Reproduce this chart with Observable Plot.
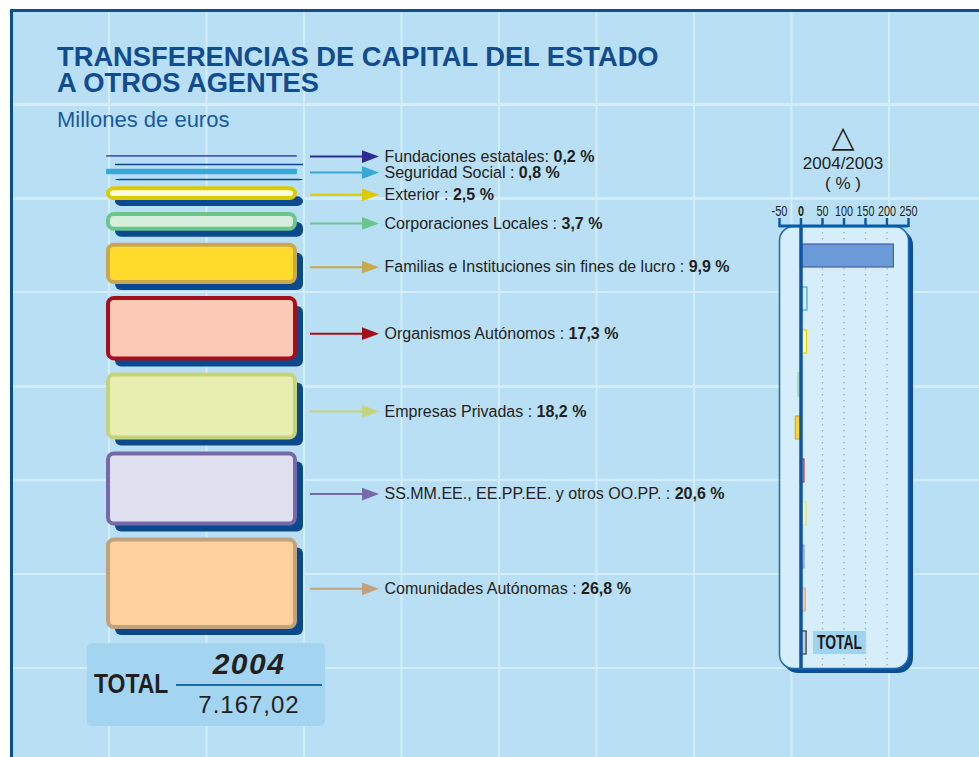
<!DOCTYPE html>
<html><head><meta charset="utf-8">
<script src="https://cdn.jsdelivr.net/npm/d3@7"></script>
<script src="https://cdn.jsdelivr.net/npm/@observablehq/plot@0.6"></script>
<style>
html,body{margin:0;padding:0;background:#fff;}
#page{position:relative;width:979px;height:757px;overflow:hidden;font-family:"Liberation Sans",Arial,Helvetica,sans-serif;}
#bg{position:absolute;left:10px;top:9px;width:969px;height:748px;border-left:3px solid #0b4f8f;border-top:3px solid #0b4f8f;background-color:#b9dff4;
background-image:linear-gradient(to right, transparent calc(100% - 2px), #d4edfa calc(100% - 2px)), linear-gradient(to bottom, transparent calc(100% - 2px), #d4edfa calc(100% - 2px));
background-size:97.5px 94px;background-position:-0.5px -1px;}
.layer{position:absolute;left:0;top:0;}
#title{position:absolute;left:57px;top:44px;font-size:27.3px;line-height:26px;font-weight:bold;color:#114d8e;white-space:nowrap;}
#subtitle{position:absolute;left:57px;top:109px;font-size:22px;line-height:21px;color:#1a5a9e;white-space:nowrap;}
#phead{position:absolute;left:783px;top:122px;width:120px;text-align:center;color:#231f20;}
#phead .tri{font-family:"DejaVu Sans",sans-serif;font-size:30px;line-height:30px;}
#phead .t{font-size:17px;line-height:20px;}
#phead .t1{margin-top:2px;}
#totbox{position:absolute;left:87px;top:643px;width:238px;height:83px;background:#a3d5f1;border-radius:5px;}
#totlab{position:absolute;left:94px;top:669px;font-weight:bold;font-size:28px;line-height:30px;color:#231f20;transform:scaleX(0.82);transform-origin:0 0;}
#totyear{position:absolute;left:176px;width:146px;top:648px;text-align:center;font-weight:bold;font-style:italic;font-size:30px;line-height:32px;letter-spacing:1.5px;color:#231f20;}
#totline{position:absolute;left:176px;width:146px;top:684px;height:2px;background:#1a6ab0;}
#totval{position:absolute;left:176px;width:146px;top:692px;text-align:center;font-size:24px;line-height:26px;letter-spacing:1px;color:#231f20;}
</style>
</head><body>
<div id="page">
  <div id="bg"></div>
  <div id="title">TRANSFERENCIAS DE CAPITAL DEL ESTADO<br>A OTROS AGENTES</div>
  <div id="subtitle">Millones de euros</div>
  <div id="phead"><div class="tri">△</div><div class="t t1" id="ratio"></div><div class="t">( % )</div></div>
  <div id="totbox"></div>
  <div id="totlab"></div>
  <div id="totyear"></div>
  <div id="totline"></div>
  <div id="totval"></div>
</div>
<script>
// ---------- DATA ----------
const categories = [
  "Fundaciones estatales",
  "Seguridad Social",
  "Exterior",
  "Corporaciones Locales",
  "Familias e Instituciones sin fines de lucro",
  "Organismos Autónomos",
  "Empresas Privadas",
  "SS.MM.EE., EE.PP.EE. y otros OO.PP.",
  "Comunidades Autónomas"
];
const labelSeparators = [": ", " : ", " : ", " : ", " : ", " : ", " : ", " : ", " : "];
const shares = [0.2, 0.8, 2.5, 3.7, 9.9, 17.3, 18.2, 20.6, 26.8];      // % of total 2004
const changes = [216, 15, 14, -6, -12, 8, 13, 8, 11];                  // 2004/2003 (%)
const totalLabel = "TOTAL";
const totalChange = 13;
const totalYear = "2004";
const totalValue = 7167.02;
const ratioLabel = "2004/2003";
const xTicks = [-50, 0, 50, 100, 150, 200, 250];

// ---------- STYLES ----------
const borderColors = ["#4b5bb0","#36a9d2","#dccb00","#6cc48f","#c9a94f","#a3101b","#c5d37c","#7669a9","#c2a27b"];
const fillColors   = ["#4b5bb0","#36a9d2","#fffbe0","#d8eedd","#ffdb2c","#fbc9b5","#e7eeb0","#e0dff0","#fed09e"];
const arrowColors  = ["#2b2b93","#36a9d2","#dccb00","#6cc48f","#c9a94f","#a3101b","#c5d37c","#7669a9","#c2a27b"];
const barFills     = ["#6a9bd8","#d6eefa","#fff9a8","#c5e6cf","#ffd42a","#f3a39a","#eef5b4","#cac6ee","#fdc99a","#cccccc"];
const barStrokes   = ["#4b5bb0","#3aa9d9","#e3d200","#9cd1ae","#c9a94f","#c3282e","#d5e183","#958dcc","#e8a96a","#333333"];
const SANS = '"Liberation Sans",Arial,Helvetica,sans-serif';

// ---------- LAYOUT ----------
const L = {boxX1: 106, boxX2: 297, yRange: [155, 629], exp: 0.8, gap: 1.82,
           arrowX1: 310, arrowX2: 366, headX: 370, labelX: 384};
const locale = d3.formatLocale({decimal: ",", thousands: ".", grouping: [3], currency: ["", " €"]});
const fmtTotal = locale.format(",.2f");
const fmtShare = v => locale.format(".1f")(v) + " %";

let acc = 0;
const blocks = categories.map((name, i) => {
  const h = Math.pow(shares[i], L.exp);
  const b = {i, name, share: shares[i], y0: acc, y1: acc + h, h};
  acc += h + L.gap;
  return b;
});
const stackTotal = acc - L.gap;
const pxPerUnit = (L.yRange[1] - L.yRange[0]) / stackTotal;
blocks.forEach(b => {
  b.mid = (b.y0 + b.y1) / 2;
  b.arrowY = b.mid + Math.min(5, 0.08 * b.h * pxPerUnit) / pxPerUnit;
});
const thin = blocks.filter(d => d.share < 1);
const boxed = blocks.filter(d => d.share >= 1);

const arrowHead = {
  draw(ctx, size) {
    const r = Math.sqrt(size / Math.PI);
    ctx.moveTo(r, 0);
    ctx.lineTo(-r, -0.75 * r);
    ctx.lineTo(-r, 0.75 * r);
    ctx.closePath();
  }
};

const left = Plot.plot({
  width: 979, height: 757, margin: 0,
  style: {background: "transparent", overflow: "visible", fontFamily: SANS},
  x: {type: "identity", axis: null},
  y: {domain: [0, stackTotal], range: L.yRange, axis: null},
  color: {type: "identity"},
  marks: [
    // shadows
    Plot.rect(blocks.filter(d => d.share >= 0.5), {x1: L.boxX1, x2: L.boxX2, y1: "y0", y2: "y1",
      dx: 7, dy: 6, insetLeft: 2, insetRight: 1, insetTop: 4, fill: "#0a4a8c", rx: 6}),
    Plot.ruleY(blocks.filter(d => d.share < 0.5), {y: "mid", x1: L.boxX1 + 9, x2: L.boxX2 + 6, dy: 8,
      stroke: "#0a4a8c", strokeWidth: 1.5}),
    // thin blocks
    Plot.rect(thin, {x1: L.boxX1, x2: L.boxX2, y1: "y0", y2: "y1", fill: d => fillColors[d.i], rx: 1}),
    // boxed blocks
    Plot.rect(boxed, {x1: L.boxX1, x2: L.boxX2, y1: "y0", y2: "y1", inset: 2, rx: 6,
      fill: d => fillColors[d.i], stroke: d => borderColors[d.i], strokeWidth: 4}),
    // arrows
    Plot.ruleY(blocks, {y: "arrowY", x1: L.arrowX1, x2: L.arrowX2, stroke: d => arrowColors[d.i], strokeWidth: 2}),
    Plot.dot(blocks, {x: L.headX, y: "arrowY", r: 8.5, symbol: arrowHead, fill: d => arrowColors[d.i], stroke: "none"}),
    // labels
    Plot.text(blocks, {x: L.labelX, y: "arrowY", text: d => d.name + labelSeparators[d.i],
      textAnchor: "start", fontSize: 16, fill: "#231f21", fontFamily: SANS})
  ]
});
left.classList.add("layer");
document.getElementById("page").appendChild(left);
left.querySelectorAll('g[fill="#231f21"] text').forEach((t, k) => {
  const ts = document.createElementNS("http://www.w3.org/2000/svg", "tspan");
  ts.setAttribute("font-weight", "bold");
  ts.textContent = fmtShare(blocks[k].share);
  t.appendChild(ts);
});

// ---------- RIGHT PANEL ----------
const rows = categories.map((name, i) => ({name, change: changes[i], fill: barFills[i], stroke: barStrokes[i]}));
rows.push({name: totalLabel, change: totalChange, fill: barFills[9], stroke: barStrokes[9]});
const panelH = 757 - 226 - 89;

const right = Plot.plot({
  width: 979, height: 757, marginLeft: 779, marginRight: 71, marginTop: 226, marginBottom: 89,
  style: {background: "transparent", overflow: "visible", fontFamily: SANS},
  x: {domain: [xTicks[0], xTicks[xTicks.length - 1]], label: null},
  y: {type: "band", domain: rows.map(d => d.name), paddingInner: 0.474, paddingOuter: 0.294, align: 0.56, axis: null},
  color: {type: "identity"},
  marks: [
    Plot.frame({fill: "#0b4f96", stroke: "#0b4f96", rx: 14, dx: 4, dy: 4}),
    Plot.frame({fill: "#d6edfa", stroke: "#1d6cb5", strokeWidth: 1.5, rx: 14}),
    Plot.ruleX(xTicks.filter(t => t > 0 && t < 250), {stroke: "#9aa5b0", strokeDasharray: "1.2,4.8", strokeWidth: 1.3, insetTop: 6}),
    Plot.barX([totalLabel], {x1: 29, x2: 152, y: d => d, fill: "#9fd3f0"}),
    Plot.barX(rows, {x1: 0, x2: "change", y: "name", fill: "fill", stroke: "stroke", strokeWidth: 1.2}),
    Plot.ruleX([0], {stroke: "#0b56a4", strokeWidth: 3.5}),
    Plot.rect([0], {x1: xTicks[0], x2: xTicks[xTicks.length - 1], insetBottom: panelH - 3, dy: -1.5, fill: "#0b5aa8"}),
    Plot.axisX({anchor: "top", ticks: xTicks, tickSize: 9, tickPadding: 2, stroke: "#0b5aa8", strokeWidth: 2.5,
      fill: "#231f20", fontSize: 14, fontFamily: SANS, label: null, tickFormat: d => String(d)}),
    Plot.text([totalLabel], {x: 0, y: d => d, text: d => d, dx: 16, textAnchor: "start", fontWeight: "bold",
      fontSize: 20, fontFamily: SANS, fill: "#1a1a1a"})
  ]
});
right.classList.add("layer");
document.getElementById("page").appendChild(right);
right.querySelectorAll("text").forEach(t => {
  const s = t.textContent;
  if (s === totalLabel) {
    t.setAttribute("textLength", 45);
    t.setAttribute("lengthAdjust", "spacingAndGlyphs");
  } else if (xTicks.map(String).includes(s)) {
    if (s === "0") t.setAttribute("font-weight", "bold");
    const w = s.replace("-", "").length * 6 + (s.startsWith("-") ? 4 : 0);
    t.setAttribute("textLength", w);
    t.setAttribute("lengthAdjust", "spacingAndGlyphs");
  }
});

// ---------- TEXT BLOCKS ----------
document.getElementById("ratio").textContent = ratioLabel;
document.getElementById("totlab").textContent = totalLabel;
document.getElementById("totyear").textContent = totalYear;
document.getElementById("totval").textContent = fmtTotal(totalValue);
</script>
</body></html>
